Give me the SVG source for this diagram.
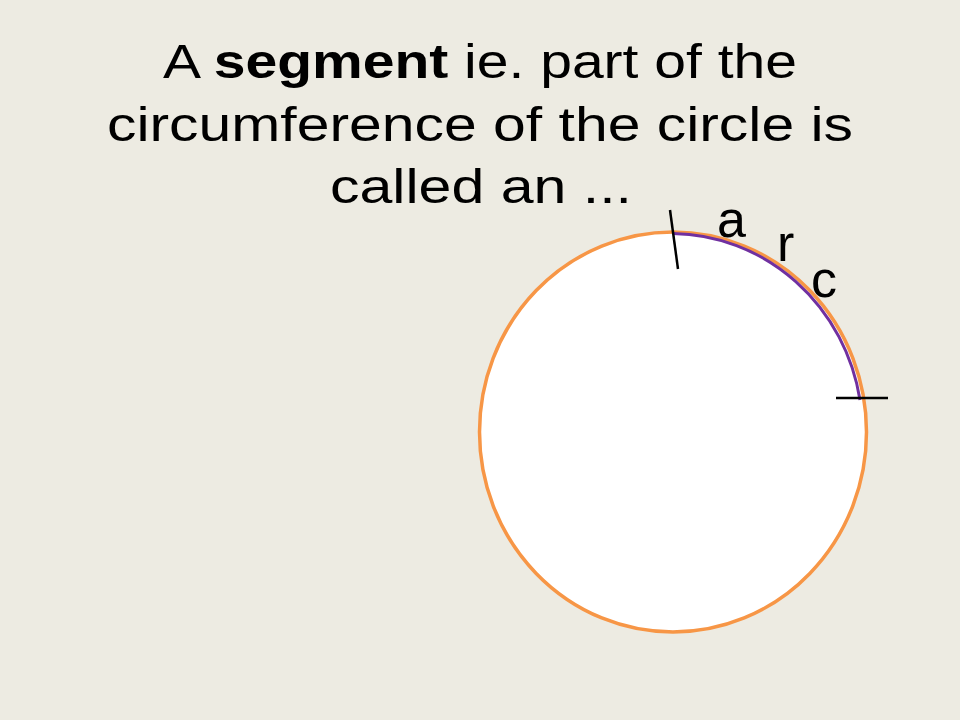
<svg xmlns="http://www.w3.org/2000/svg" width="960" height="720" viewBox="0 0 960 720">
<style>
.t{font-family:"Liberation Sans","DejaVu Sans",sans-serif;font-size:48px;fill:#000;text-anchor:start}
.l{font-family:"Liberation Sans","DejaVu Sans",sans-serif;font-size:52px;fill:#000}
.tick{stroke:#000;stroke-width:2.5;fill:none}
</style>
<rect width="960" height="720" fill="#EDEBE2"/>
<g id="title">
<text class="t" x="163" y="78" textLength="634" lengthAdjust="spacingAndGlyphs">A <tspan font-weight="bold">segment</tspan> ie. part of the</text>
<text class="t" x="107" y="141" textLength="746" lengthAdjust="spacingAndGlyphs">circumference of the circle is</text>
<text class="t" x="330" y="203" textLength="302" lengthAdjust="spacingAndGlyphs">called an ...</text>
</g>
<g id="circle">
<ellipse cx="673" cy="432" rx="193.5" ry="200" fill="#FFFFFF" stroke="#F79646" stroke-width="3.5"/>
</g>
<g id="arc">
<path d="M673,233.5 A192,198.5 0 0 1 860,400" fill="none" stroke="#7030A0" stroke-width="3"/>
</g>
<g id="ticks">
<line class="tick" x1="670" y1="210" x2="678" y2="269"/>
<line class="tick" x1="836" y1="398" x2="888" y2="398"/>
</g>
<g id="labels">
<text class="l" x="717" y="237">a</text>
<text class="l" x="777" y="261">r</text>
<text class="l" x="811" y="297">c</text>
</g>
</svg>
